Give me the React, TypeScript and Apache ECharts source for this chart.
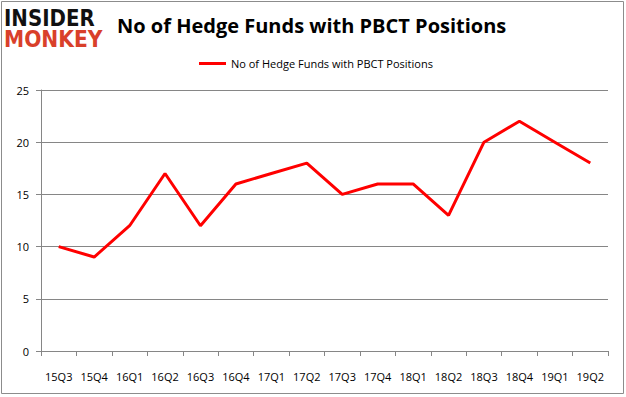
import React, { useEffect, useRef } from "react";
import * as echarts from "echarts";

const categories = ["15Q3", "15Q4", "16Q1", "16Q2", "16Q3", "16Q4", "17Q1", "17Q2", "17Q3", "17Q4", "18Q1", "18Q2", "18Q3", "18Q4", "19Q1", "19Q2"];
const seriesName = "No of Hedge Funds with PBCT Positions";
const values = [10, 9, 12, 17, 12, 16, 17, 18, 15, 16, 16, 13, 20, 22, 20, 18];
const titleText = "No of Hedge Funds with PBCT Positions";

export default function App() {
  const ref = useRef<HTMLDivElement>(null);
  useEffect(() => {
    document.body.style.margin = "0";
    const chart = echarts.init(ref.current!, null, { renderer: "svg" });
    const font = "'Open Sans', 'Liberation Sans', sans-serif";
    chart.setOption({
      animation: false,
      backgroundColor: "#ffffff",
      graphic: [
        { type: "rect", shape: { x: 1.5, y: 1.5, width: 622, height: 392 }, style: { fill: "none", stroke: "#8c8c8c", lineWidth: 1 } },
        { type: "text", x: 4, y: 6, scaleX: 0.86, style: { text: "INSIDER", font: "bold 23px 'DejaVu Sans', sans-serif", fill: "#111111" } },
        { type: "text", x: 4, y: 28, scaleX: 0.88, style: { text: "MONKEY", font: "bold 23px 'DejaVu Sans', sans-serif", fill: "#d9402a" } },
        { type: "text", x: 117, y: 15, style: { text: titleText, font: "bold 20px 'Open Sans', 'Liberation Sans', sans-serif", fill: "#000000" } },
      ],
      legend: {
        top: 53,
        left: 194,
        itemWidth: 27,
        itemHeight: 3,
        itemGap: 4,
        icon: "rect",
        textStyle: { fontFamily: font, fontSize: 11, color: "#000" },
        data: [{ name: seriesName, icon: "rect" }],
      },
      grid: { left: 41, right: 18, top: 90, bottom: 46 },
      xAxis: {
        type: "category",
        data: categories,
        boundaryGap: true,
        axisLine: { lineStyle: { color: "#868686" } },
        axisTick: { show: true, length: 5, interval: 0, lineStyle: { color: "#868686" } },
        axisLabel: { interval: 0, margin: 20, fontFamily: font, fontSize: 11, color: "#000" },
      },
      yAxis: {
        type: "value",
        min: 0,
        max: 25,
        interval: 5,
        axisLine: { show: true, lineStyle: { color: "#868686" } },
        axisTick: { show: true, length: 5, lineStyle: { color: "#868686" } },
        splitLine: { lineStyle: { color: "#868686" } },
        axisLabel: { margin: 12, fontFamily: font, fontSize: 11, color: "#000" },
      },
      series: [
        {
          name: seriesName,
          type: "line",
          data: values,
          symbol: "none",
          lineStyle: { color: "#ff0000", width: 3 },
          itemStyle: { color: "#ff0000" },
        },
      ],
    });
    return () => chart.dispose();
  }, []);
  return <div ref={ref} style={{ width: 626, height: 397 }} />;
}
